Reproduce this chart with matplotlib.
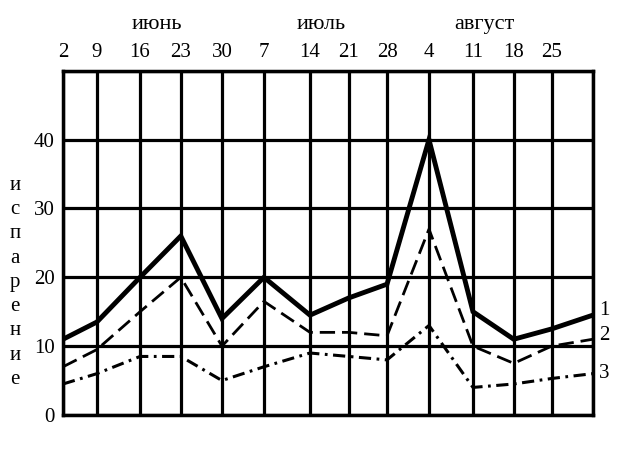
import matplotlib.pyplot as plt

# week positions of the grid lines (hand-drawn, so not quite even)
week_pos = [0, 0.83, 1.89, 2.89, 3.90, 4.93, 6.06, 7.01, 7.95, 8.98, 10.06, 11.06, 11.99, 13]
date_labels = ["2", "9", "16", "23", "30", "7", "14", "21", "28", "4", "11", "18", "25", ""]

months = ["июнь", "июль", "август"]
month_pos = [2.3, 6.33, 10.33]

# evaporation values, three series
series1 = [11, 13.5, 20, 26, 14, 20, 14.5, 17, 19, 40, 15, 11, 12.5, 14.5]
series2 = [7, 9.5, 15, 20, 10, 16.5, 12, 12, 11.5, 27, 10, 7.5, 10, 11]
series3 = [4.5, 6, 8.5, 8.5, 5, 7, 9, 8.5, 8, 13, 4, 4.5, 5.3, 6]

ylabel = "испарение"

plt.rcParams['font.family'] = ['Liberation Serif', 'DejaVu Serif']

fig = plt.figure(figsize=(6.24, 4.54), dpi=100)
ax = fig.add_axes([0.101, 0.086, 0.849, 0.758])

ax.plot(week_pos, series1, color="black", lw=3.5, solid_joinstyle="miter", zorder=3)
ax.plot(week_pos, series2, color="black", lw=2.0, dashes=(5.5, 2.5), zorder=3)
ax.plot(week_pos, series3, color="black", lw=2.2, dashes=(4, 1.8, 0.9, 1.8), zorder=3)

ax.set_xlim(week_pos[0], week_pos[-1])
ax.set_ylim(0, 50)

ax.set_xticks(week_pos)
ax.set_xticklabels(date_labels, fontsize=15)
ax.xaxis.tick_top()
ax.set_yticks([0, 10, 20, 30, 40, 50])
ax.set_yticklabels(["0", "10", "20", "30", "40", ""], fontsize=15)
ax.tick_params(length=0, pad=6)

ax.grid(True, color="black", lw=2.3)
ax.set_axisbelow(True)
for s in ax.spines.values():
    s.set_linewidth(2.5)

# month names above the dates
for m, p in zip(months, month_pos):
    ax.text(p, 1.135, m, transform=ax.get_xaxis_transform(), ha="center", va="center", fontsize=16)

# vertical y label, one letter per row
for i, ch in enumerate(ylabel):
    fig.text(0.024, 0.592 - i * 0.0535, ch, ha="center", va="center", fontsize=15)

# series numbers at right end
for num, ser, dy in zip(["1", "2", "3"], [series1, series2, series3], [5, 4, 0]):
    ax.annotate(num, (week_pos[-1], ser[-1]), xytext=(6, dy), textcoords="offset pixels",
                ha="left", va="center", fontsize=15, annotation_clip=False)

fig.savefig("out.png", dpi=100)
